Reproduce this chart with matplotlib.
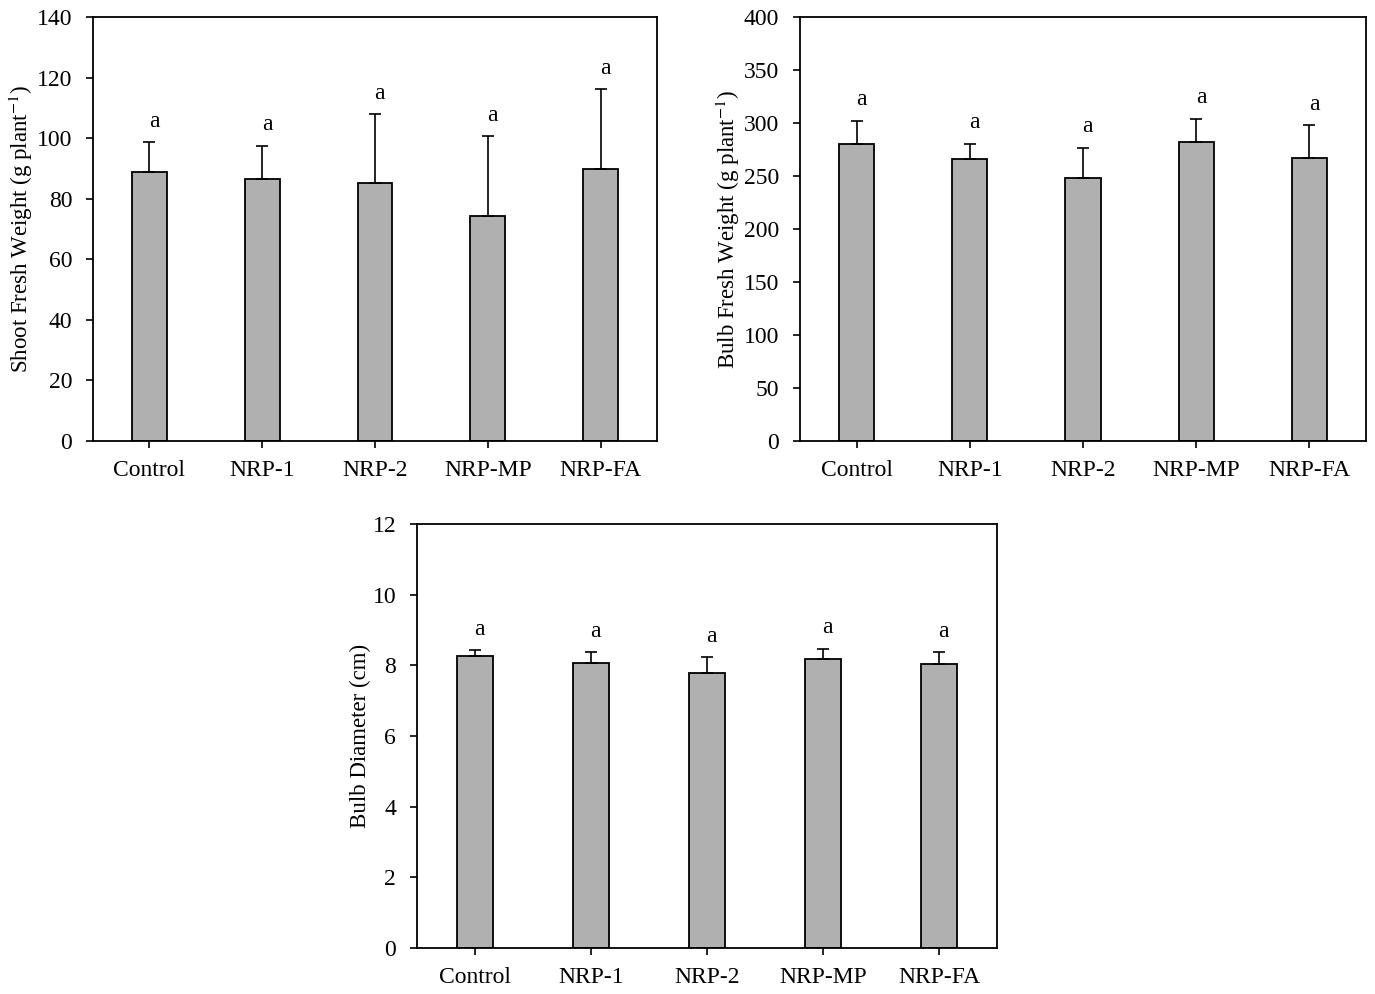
import numpy as np
import matplotlib
matplotlib.use('Agg')
import matplotlib.pyplot as plt

plt.rcParams['font.family'] = ['Liberation Serif', 'DejaVu Serif']
plt.rcParams['mathtext.fontset'] = 'stix'

treatments = ['Control', 'NRP-1', 'NRP-2', 'NRP-MP', 'NRP-FA']

shoot_mean = [88.8, 86.5, 85.3, 74.4, 89.8]
shoot_err = [9.9, 11.0, 22.6, 26.3, 26.4]
shoot_letters = ['a', 'a', 'a', 'a', 'a']

bulb_mean = [280.5, 265.7, 248.5, 281.7, 267.3]
bulb_err = [21.6, 14.8, 28.2, 22.3, 30.4]
bulb_letters = ['a', 'a', 'a', 'a', 'a']

diam_mean = [8.26, 8.08, 7.77, 8.19, 8.04]
diam_err = [0.17, 0.29, 0.46, 0.28, 0.34]
diam_letters = ['a', 'a', 'a', 'a', 'a']

W, H = 1375, 994
fig = plt.figure(figsize=(W / 100, H / 100), dpi=100)


def box(l, t, r, b):
    return [l / W, 1 - b / H, (r - l) / W, (b - t) / H]


def panel(rect, means, errs, letters, ymax, ystep, ylabel):
    ax = fig.add_axes(rect)
    x = np.arange(len(treatments))
    ax.bar(x, means, width=0.31, color='#b0b0b0', edgecolor='black',
           linewidth=1.3, zorder=2)
    ax.errorbar(x, means, yerr=[np.zeros(len(errs)), errs], fmt='none',
                ecolor='black', elinewidth=1.2, capsize=4, capthick=1.2,
                zorder=3)
    for xi, m, e, lab in zip(x, means, errs, letters):
        ax.annotate(lab, (xi, m + e), xytext=(3.5, 11), textcoords='offset points',
                    ha='center', va='baseline', fontsize=17)
    ax.set_xlim(-0.5, len(treatments) - 0.5)
    ax.set_ylim(0, ymax)
    ax.set_yticks(np.arange(0, ymax + ystep / 2, ystep))
    ax.set_xticks(x)
    ax.set_xticklabels(treatments)
    ax.tick_params(axis='both', direction='out', length=5, width=1.2,
                   labelsize=17)
    ax.tick_params(axis='x', pad=9)
    ax.tick_params(axis='y', pad=10)
    for s in ax.spines.values():
        s.set_linewidth(1.3)
    ax.set_ylabel(ylabel, fontsize=16.5, labelpad=1)
    return ax


panel(box(93, 17, 657, 441), shoot_mean, shoot_err, shoot_letters, 140, 20,
      r'Shoot Fresh Weight (g plant$^{-1}$)')
panel(box(800, 17, 1366, 441), bulb_mean, bulb_err, bulb_letters, 400, 50,
      r'Bulb Fresh Weight (g plant$^{-1}$)')
panel(box(417, 524, 997, 948), diam_mean, diam_err, diam_letters, 12, 2,
      'Bulb Diameter (cm)')

fig.savefig('out.png', dpi=100)
